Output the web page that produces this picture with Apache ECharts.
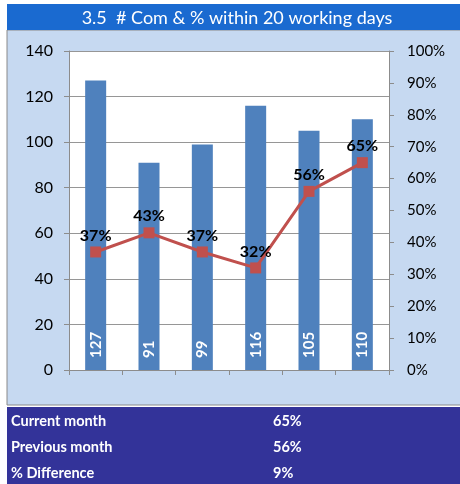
<!DOCTYPE html>
<html>
<head>
<meta charset="utf-8">
<script src="https://cdn.jsdelivr.net/npm/echarts@6/dist/echarts.min.js"></script>
<style>
  html, body { margin: 0; padding: 0; background: #fff; }
  #chart { width: 460px; height: 484px; }
</style>
</head>
<body>
<div id="chart"></div>
<script>
// chart data
let categories = ['M1', 'M2', 'M3', 'M4', 'M5', 'M6'];
let counts = [127, 91, 99, 116, 105, 110];
let percents = [37, 43, 37, 32, 56, 65];

// summary table under the chart
let tableLabels = ['Current month', 'Previous month', '% Difference'];
let tableValues = ['65%', '56%', '9%'];

let FONT = 'Lato, "Open Sans", sans-serif';
let rowY = [421, 447, 473];

let tableText = [];
tableLabels.forEach((t, i) => {
  tableText.push({
    type: 'text', x: 11, y: rowY[i],
    style: {text: t, fill: '#fff', font: 'bold 14.5px ' + FONT, textVerticalAlign: 'middle'}
  });
  tableText.push({
    type: 'text', x: 273, y: rowY[i],
    style: {text: tableValues[i], fill: '#fff', font: 'bold 14.5px ' + FONT, textVerticalAlign: 'middle'}
  });
});

let option = {
  animation: false,
  textStyle: {fontFamily: FONT},
  graphic: [
    {type: 'rect', shape: {x: 7, y: 30, width: 460, height: 375},
      style: {fill: '#c6d9f1', stroke: '#8a8a8a', lineWidth: 1}, z: -10},
    {type: 'rect', shape: {x: 69, y: 51, width: 320, height: 319},
      style: {fill: '#fff'}, z: -9},
    {type: 'rect', shape: {x: 7, y: 4, width: 460, height: 26},
      style: {fill: '#1a6ad0'}, z: -10},
    {type: 'text', x: 237, y: 18,
      style: {text: '3.5  # Com & % within 20 working days', fill: '#fff',
        font: '18px ' + FONT, textAlign: 'center', textVerticalAlign: 'middle'}},
    {type: 'rect', shape: {x: 7, y: 407, width: 460, height: 80},
      style: {fill: '#333399'}, z: -10}
  ].concat(tableText),
  grid: {left: 69, top: 51, width: 320, height: 319, containLabel: false},
  xAxis: {
    type: 'category',
    data: categories,
    axisLine: {lineStyle: {color: '#8c8c8c'}},
    axisTick: {show: true, length: 5, lineStyle: {color: '#8c8c8c'}},
    axisLabel: {show: false}
  },
  yAxis: [
    {
      type: 'value', min: 0, max: 140, interval: 20,
      axisLine: {show: true, lineStyle: {color: '#8c8c8c'}},
      axisTick: {show: true, length: 5, lineStyle: {color: '#8c8c8c'}},
      axisLabel: {color: '#000', fontSize: 16, margin: 16, fontFamily: FONT},
      splitLine: {lineStyle: {color: '#969696'}}
    },
    {
      type: 'value', min: 0, max: 100, interval: 10,
      axisLine: {show: true, lineStyle: {color: '#8c8c8c'}},
      axisTick: {show: true, length: 5, lineStyle: {color: '#8c8c8c'}},
      axisLabel: {color: '#000', fontSize: 15, margin: 18, formatter: '{value}%', fontFamily: FONT},
      splitLine: {show: false}
    }
  ],
  series: [
    {
      type: 'bar',
      data: counts,
      barWidth: 21,
      itemStyle: {color: '#4f81bd'},
      label: {
        show: true, position: 'insideBottom', distance: 12, rotate: 90,
        align: 'left', verticalAlign: 'middle',
        color: '#fff', fontWeight: 'bold', fontSize: 15, fontFamily: FONT
      }
    },
    {
      type: 'line',
      yAxisIndex: 1,
      data: percents,
      symbol: 'rect',
      symbolSize: 11,
      lineStyle: {color: '#c0504d', width: 3},
      itemStyle: {color: '#c0504d'},
      label: {
        show: true, position: 'top', distance: 3, formatter: '{c}%',
        color: '#000', fontWeight: 'bold', fontSize: 16, fontFamily: FONT
      }
    }
  ]
};

let chart = echarts.init(document.getElementById('chart'));
chart.setOption(option);
</script>
</body>
</html>
